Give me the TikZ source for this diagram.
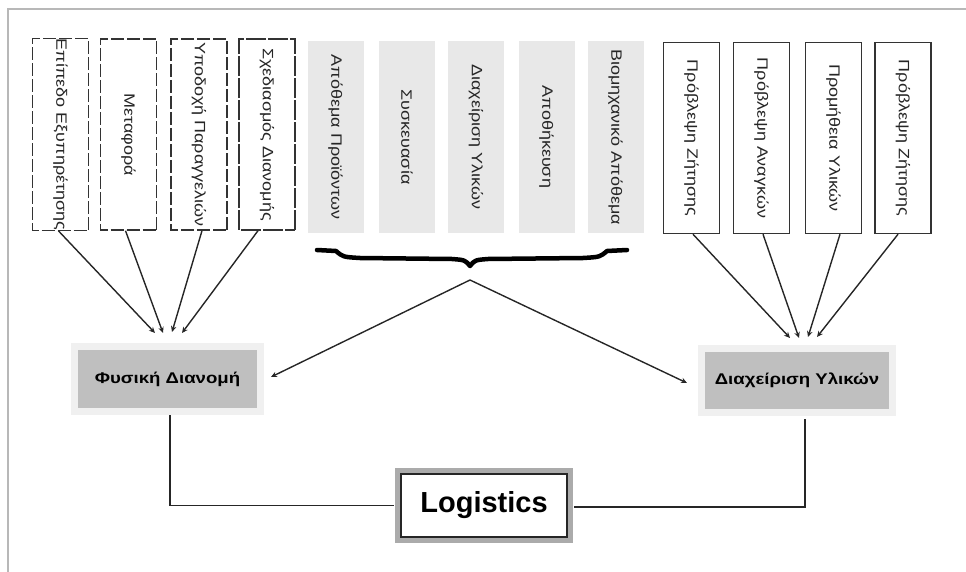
\documentclass[tikz,border=0pt]{standalone}
\usepackage{fontspec}
\setmainfont{Liberation Sans}
\newfontfamily\boxfont[FakeStretch=1.2]{Liberation Sans}
\usetikzlibrary{arrows.meta}
\begin{document}
\begin{tikzpicture}[x=1pt,y=-1pt,
  vbox/.style={rotate=-90, minimum width=191pt, minimum height=56pt, inner sep=0pt,
    font=\boxfont\fontsize{15}{15}\selectfont, text=black!85},
  dbox/.style={vbox, draw=black!80, line width=1.4pt, dash pattern=on 13pt off 3pt},
  sbox/.style={vbox, draw=black!80, line width=1.5pt},
  gbox/.style={vbox, fill=black!9},
  arr/.style={-{Stealth[length=6pt,width=5.5pt]}, line width=1.4pt, draw=black!85},
  conn/.style={line width=1.8pt, draw=black!85},
  mainbox/.style={fill=black!25, inner sep=0pt, font=\boxfont\bfseries\fontsize{15.5}{15.5}\selectfont,
    preaction={draw=black!6, line width=14pt}},
  logibox/.style={draw=black!85, line width=1.2pt, fill=white, minimum width=166pt, minimum height=63pt,
    font=\bfseries\fontsize{29}{29}\selectfont, preaction={draw=black!33, line width=12pt}}
]
\useasboundingbox (0,0) rectangle (966,572);
\draw[black!28, line width=2pt] (966,9) -- (8,9) -- (8,572);

% left dashed boxes
\node[dbox] (b1) at (60.5,134.5) {Επίπεδο Εξυπηρέτησης};
\node[dbox] (b2) at (128.5,134.5) {Μεταφορά};
\node[dbox] (b3) at (199,134.5) {Υποδοχή Παραγγελιών};
\node[dbox, dash pattern=on 20pt off 2pt] (b4) at (267,134.5) {Σχεδιασμός Διανομής};

% middle shaded boxes
\node[gbox] (m1) at (335.5,137) {Απόθεμα Προϊόντων};
\node[gbox] (m2) at (407,137) {Συσκευασία};
\node[gbox] (m3) at (476,137) {Διαχείριση Υλικών};
\node[gbox] (m4) at (546.5,137) {Αποθήκευση};
\node[gbox] (m5) at (615.5,137) {Βιομηχανικό Απόθεμα};

% right solid boxes
\node[sbox] (r1) at (691.5,138) {Πρόβλεψη Ζήτησης};
\node[sbox] (r2) at (761.5,138) {Πρόβλεψη Αναγκών};
\node[sbox] (r3) at (833.5,138) {Προμήθεια Υλικών};
\node[sbox] (r4) at (903,138) {Πρόβλεψη Ζήτησης};

% main boxes
\node[mainbox, minimum width=179pt, minimum height=58pt] (fd) at (167.5,379) {Φυσική Διανομή};
\node[mainbox, minimum width=184pt, minimum height=57pt] (dy) at (797,380.5) {Διαχείριση Υλικών};
\node[logibox] (logi) at (484,505.5) {Logistics};

% arrow targets
\coordinate (fa1) at (155,333);
\coordinate (fa2) at (163,333);
\coordinate (fa3) at (172,332);
\coordinate (fa4) at (182,333);
\coordinate (da1) at (790,338);
\coordinate (da2) at (799,338);
\coordinate (da3) at (808,337);
\coordinate (da4) at (817,337);
\coordinate (bt) at (470,280);
\coordinate (fdin) at (271,377);
\coordinate (dyin) at (687,383);

\draw[arr] ([xshift=-2pt]b1.east) -- (fa1);
\draw[arr] ([xshift=-3pt]b2.east) -- (fa2);
\draw[arr] ([xshift=3pt]b3.east) -- (fa3);
\draw[arr] ([xshift=-9pt]b4.east) -- (fa4);
\draw[arr] ([xshift=1.5pt]r1.east) -- (da1);
\draw[arr] ([xshift=1.5pt]r2.east) -- (da2);
\draw[arr] ([xshift=6.5pt]r3.east) -- (da3);
\draw[arr] ([xshift=-5pt]r4.east) -- (da4);

% brace
\draw[line width=4.5pt, line cap=round, line join=round, black]
  (317,250) -- (336,251) .. controls (343,257) .. (360,258) -- (452,259)
  .. controls (465,260) .. (470,266) .. controls (475,260) .. (488,259)
  -- (583,258) .. controls (600,257) .. (607,251) -- (627,250);

\draw[arr] (bt) -- (fdin);
\draw[arr] (bt) -- (dyin);

% logistics connectors
\draw[conn] ([xshift=2.5pt,yshift=-7pt]fd.south) |- ([xshift=-6pt]logi.west);
\draw[conn] ([xshift=8pt,yshift=-10pt]dy.south) |- ([xshift=6pt,yshift=-1.5pt]logi.east);
\end{tikzpicture}
\end{document}
